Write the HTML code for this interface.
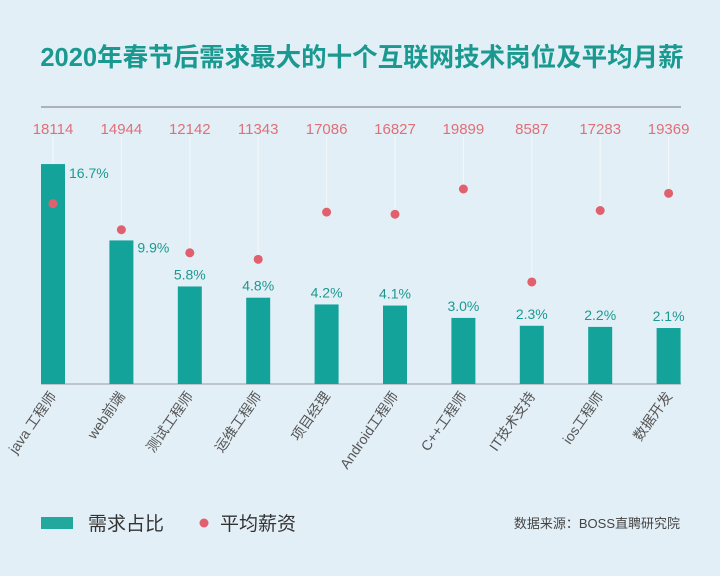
<!DOCTYPE html>
<html><head><meta charset="utf-8">
<style>
html,body{margin:0;padding:0;}
body{width:720px;height:571px;background:#e3eff6;overflow:hidden;font-family:"Liberation Sans","Noto Sans CJK SC",sans-serif;}
</style></head>
<body>
<svg width="720" height="571" xmlns="http://www.w3.org/2000/svg">
<text x="362" y="66" text-anchor="middle" font-size="25.5" font-weight="bold" fill="#1a9990" font-family="Liberation Sans, Noto Sans CJK SC, sans-serif">2020年春节后需求最大的十个互联网技术岗位及平均月薪</text>
<line x1="41" y1="107" x2="681" y2="107" stroke="#9a9ea2" stroke-width="1.5"/>
<line x1="41" y1="384" x2="681" y2="384" stroke="#9a9ea2" stroke-width="1"/>
<g id="marks"></g>
<rect x="41" y="517" width="32" height="12" fill="#23a89e"/>
<text x="88" y="530" font-size="19" fill="#333">需求占比</text>
<circle cx="204" cy="523" r="4.5" fill="#e0606e"/>
<text x="220" y="530" font-size="19" fill="#333">平均薪资</text>
<text x="680" y="528" text-anchor="end" font-size="13" fill="#444">数据来源：BOSS直聘研究院</text>
</svg>
<script>
const categories = ["java 工程师","web前端","测试工程师","运维工程师","项目经理","Android工程师","C++工程师","IT技术支持","ios工程师","数据开发"];
const demandPct = [16.7,9.9,5.8,4.8,4.2,4.1,3.0,2.3,2.2,2.1];
const salary = [18114,14944,12142,11343,17086,16827,19899,8587,17283,19369];

const NS="http://www.w3.org/2000/svg";
const g=document.getElementById('marks');
const baseY=384, bw=24;
function xCenter(i){return 53+i*68.4;}
function yPct(v){return baseY-(32.4+11.23*v);}
function ySal(v){return 189+(19899-v)*0.00822;}
function mk(tag,attrs,txt){const e=document.createElementNS(NS,tag);for(const k in attrs)e.setAttribute(k,attrs[k]);if(txt!==undefined)e.textContent=txt;g.appendChild(e);return e;}
categories.forEach((c,i)=>{
  const cx=xCenter(i), top=yPct(demandPct[i]), sy=ySal(salary[i]);
  const ln=mk('line',{x1:cx,y1:136,x2:cx,y2:sy,stroke:'#ffffff','stroke-width':1,opacity:0.6});
  
  
  const r=mk('rect',{x:cx-bw/2,y:top,width:bw,height:baseY-top,fill:'#14a39a'});
  
  
  const d=mk('circle',{cx:cx,cy:sy,r:4.5,fill:'#e0606e'});
  
  
  const st=mk('text',{x:cx,y:134,'text-anchor':'middle','font-size':15,fill:'#df6f78'},String(salary[i]));
  
  
  let px,py,anc;
  if(i<2){px=cx+bw/2+4;py=top+(i==0?14:12);anc='start';}
  else{px=cx;py=top-7;anc='middle';}
  const pt=mk('text',{x:px,y:py,'text-anchor':anc,'font-size':14,fill:'#1a9990'},demandPct[i].toFixed(1)+'%');
  
  
  const xl=mk('text',{x:cx+4,y:396,'text-anchor':'end','font-size':14,fill:'#555',transform:'rotate(-55 '+(cx+4)+' 396)'},c);
  
  
});
</script>
</body></html>
